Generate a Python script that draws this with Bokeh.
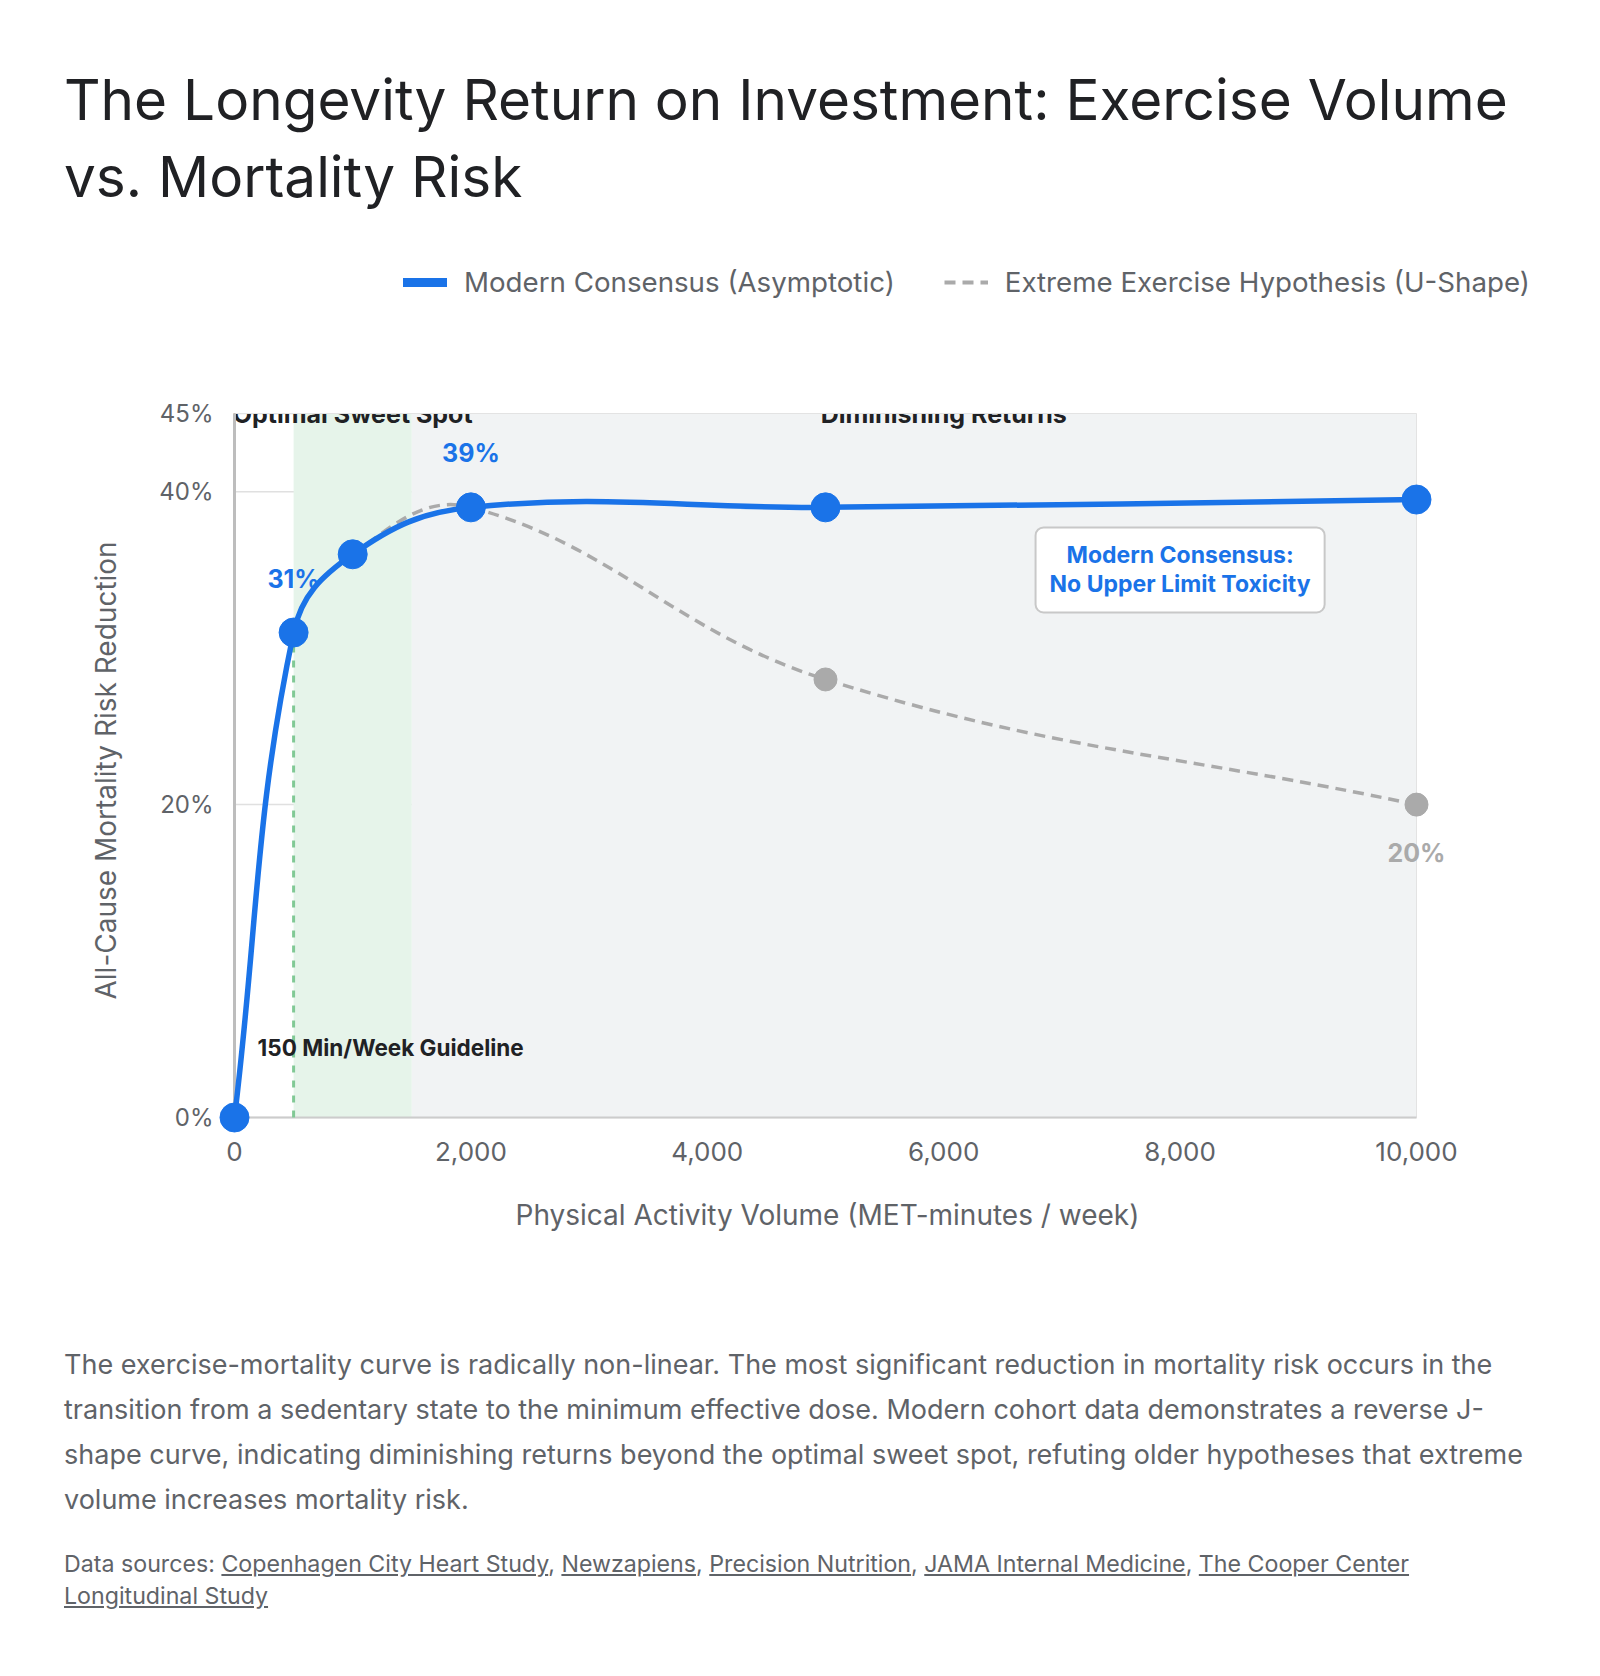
import math
from bokeh.plotting import figure
from bokeh.layouts import column
from bokeh.models import (Div, Legend, LegendItem, FixedTicker, NumeralTickFormatter,
                          Label, ColumnDataSource, Title)
from bokeh.core.properties import value
from bokeh.embed import file_html
from bokeh.resources import INLINE

# ---------------- data ----------------
volume = [0, 500, 1000, 2000, 5000, 10000]          # MET-minutes / week
consensus = [0, 31, 36, 39, 39, 39.5]               # % risk reduction (Modern Consensus)
u_shape = [0, 31, 36, 39, 28, 20]                   # % risk reduction (Extreme Exercise Hypothesis)
zone_start = [500, 1500]
zone_end = [1500, 10000]
zone_names = ["Optimal Sweet Spot", "Diminishing Returns"]
zone_label_x = [1000, 6000]
guideline_x = 500
x_ticks = [0, 2000, 4000, 6000, 8000, 10000]
y_ticks = [0, 20, 40, 45]
consensus_label_idx = [1, 3]
u_shape_label_idx = [5]
series_names = ["Modern Consensus (Asymptotic)", "Extreme Exercise Hypothesis (U-Shape)"]
x_title = "Physical Activity Volume (MET-minutes / week)"
y_title = "All-Cause Mortality Risk Reduction"

X_MAX, Y_MAX = 10000, 45
FRAME_W, FRAME_H = 1182, 704          # plot-area size in px
# extra frame room around the plot area (markers at the edges, legend on top)
PAD_L, PAD_R, PAD_T, PAD_B = 16, 154, 173, 16
FONT = "Inter"
BLUE = "#1a73e8"
GREY = "#aaaaaa"
TXT = "#5f6368"

UX = X_MAX / FRAME_W   # data units per px
UY = Y_MAX / FRAME_H


def spline_segments(xs, ys, tension=0.4):
    """Chart.js-style cardinal spline control points (computed in pixel space)."""
    px = [x / UX for x in xs]
    py = [y / UY for y in ys]
    n = len(px)
    prev_c, next_c = [], []
    for i in range(n):
        a, c = max(i - 1, 0), min(i + 1, n - 1)
        d01 = math.hypot(px[i] - px[a], py[i] - py[a])
        d12 = math.hypot(px[c] - px[i], py[c] - py[i])
        tot = d01 + d12
        s01 = d01 / tot if tot else 0
        s12 = d12 / tot if tot else 0
        fa, fb = tension * s01, tension * s12
        dx, dy = px[c] - px[a], py[c] - py[a]
        prev_c.append((px[i] - fa * dx, py[i] - fa * dy))
        next_c.append((px[i] + fb * dx, py[i] + fb * dy))

    def back(pt):
        return min(max(pt[0], 0), FRAME_W) * UX, min(max(pt[1], 0), FRAME_H) * UY

    seg = dict(x0=[], y0=[], x1=[], y1=[], cx0=[], cy0=[], cx1=[], cy1=[])
    for i in range(n - 1):
        c0 = back(next_c[i])
        c1 = back(prev_c[i + 1])
        seg["x0"].append(xs[i]); seg["y0"].append(ys[i])
        seg["x1"].append(xs[i + 1]); seg["y1"].append(ys[i + 1])
        seg["cx0"].append(c0[0]); seg["cy0"].append(c0[1])
        seg["cx1"].append(c1[0]); seg["cy1"].append(c1[1])
    return seg


# ---------------- title ----------------
title = Div(
    text=("<div style=\"font-family:'Inter';font-size:56.7px;line-height:77px;color:#202124;"
          "padding:61px 0 0 64px;white-space:nowrap\">"
          "The Longevity Return on Investment: Exercise Volume<br>vs. Mortality Risk</div>"),
    width=1600, height=230, margin=0)

# ---------------- main figure ----------------
x_range = (-PAD_L * UX, X_MAX + PAD_R * UX)
y_range = (-PAD_B * UY, Y_MAX + PAD_T * UY)
p = figure(width=1600, height=1043, x_range=x_range, y_range=y_range,
           output_backend="svg", toolbar_location=None,
           min_border_left=234 - PAD_L, min_border_right=1600 - 1416 - PAD_R,
           min_border_top=413 - 230 - PAD_T, min_border_bottom=140)
p.background_fill_color = "white"
p.border_fill_color = "white"
p.outline_line_color = None
p.grid.visible = False

# horizontal grid lines (plot area only)
p.segment(x0=[0] * len(y_ticks), y0=y_ticks, x1=[X_MAX] * len(y_ticks), y1=y_ticks,
          line_color="#e0e0e0", line_width=1.5)

# zones
p.quad(left=zone_start, right=zone_end, bottom=0, top=Y_MAX,
       fill_color=["#e6f4ea", "#f1f3f4"], line_color=None)

# zone labels (cut at top of plot area)
p.text(x=zone_label_x, y=[Y_MAX] * len(zone_label_x), text=zone_names,
       text_font=value(FONT), text_font_style="bold", text_font_size="25px",
       text_color="#202124", text_align="center", text_baseline="alphabetic", y_offset=0)
p.quad(left=[x_range[0]], right=[x_range[1]], bottom=[Y_MAX], top=[y_range[1]],
       fill_color="white", line_color=None)

# plot-area border (top / right) and axis lines
p.segment(x0=[0, X_MAX], y0=[Y_MAX, 0], x1=[X_MAX, X_MAX], y1=[Y_MAX, Y_MAX],
          line_color="#e3e3e3", line_width=1)
p.segment(x0=[0], y0=[0], x1=[X_MAX], y1=[0], line_color="#cccccc", line_width=2)
p.segment(x0=[0], y0=[0], x1=[0], y1=[Y_MAX], line_color="#bdbdbd", line_width=3)

# guideline
gi = volume.index(guideline_x)
p.segment(x0=[guideline_x], y0=[0], x1=[guideline_x], y1=[consensus[gi]],
          line_color="#81c995", line_width=3, line_dash="7 8")

# grey U-shape curve
gs = spline_segments(volume, u_shape)
p.bezier(source=ColumnDataSource(gs), x0="x0", y0="y0", x1="x1", y1="y1",
         cx0="cx0", cy0="cy0", cx1="cx1", cy1="cy1",
         line_color=GREY, line_width=3.5, line_dash="11 7")
p.scatter(volume, u_shape, size=23, color=GREY)

# blue consensus curve
bs = spline_segments(volume, consensus)
p.bezier(source=ColumnDataSource(bs), x0="x0", y0="y0", x1="x1", y1="y1",
         cx0="cx0", cy0="cy0", cx1="cx1", cy1="cy1",
         line_color=BLUE, line_width=5.5)
p.scatter(volume, consensus, size=29, color=BLUE)

# value labels
p.text(x=[volume[i] for i in consensus_label_idx], y=[consensus[i] for i in consensus_label_idx],
       text=[f"{consensus[i]:g}%" for i in consensus_label_idx],
       text_font=value(FONT), text_font_style="bold", text_font_size="25px",
       text_color=BLUE, text_align="center", text_baseline="middle", y_offset=-54)
p.text(x=[volume[i] for i in u_shape_label_idx], y=[u_shape[i] for i in u_shape_label_idx],
       text=[f"{u_shape[i]:g}%" for i in u_shape_label_idx],
       text_font=value(FONT), text_font_style="bold", text_font_size="25px",
       text_color=GREY, text_align="center", text_baseline="middle", y_offset=48)

# guideline label
p.add_layout(Label(x=guideline_x, y=4.5, text="150 Min/Week Guideline",
                   text_font=FONT, text_font_style="bold", text_font_size="22.5px",
                   text_color="#202124", text_align="left", text_baseline="middle",
                   x_offset=-36))

# callout box
p.add_layout(Label(x=8000, y=35, text="Modern Consensus:\nNo Upper Limit Toxicity",
                   text_font=FONT, text_font_style="bold", text_font_size="23px",
                   text_color=BLUE, text_align="center", text_baseline="middle",
                   text_line_height=1.04,
                   background_fill_color="white", border_line_color="#c8c8c8",
                   border_line_width=2, padding=14, border_radius=8))

# legend (proxy renderers carry the legend styling only)
nan = float("nan")
leg_blue = p.line([nan, nan], [nan, nan], line_color=BLUE, line_width=9, line_cap="round")
leg_grey = p.line([nan, nan], [nan, nan], line_color=GREY, line_width=4, line_dash="11 7")
legend = Legend(items=[LegendItem(label=series_names[0], renderers=[leg_blue]),
                       LegendItem(label=series_names[1], renderers=[leg_grey])],
                orientation="horizontal", location=(403 - (234 - PAD_L), (1117 + PAD_B) - 299),
                glyph_width=44, glyph_height=34, label_standoff=17, spacing=49,
                padding=0, margin=0, border_line_color=None, background_fill_alpha=0,
                label_text_font=FONT, label_text_font_size="27.7px", label_text_color=TXT)
p.add_layout(legend, "center")

# axes (tick labels from Bokeh axes)
p.xaxis.ticker = FixedTicker(ticks=x_ticks)
p.xaxis.formatter = NumeralTickFormatter(format="0,0")
p.yaxis.ticker = FixedTicker(ticks=y_ticks)
p.yaxis.major_label_overrides = {t: f"{t}%" for t in y_ticks}
for ax in (p.xaxis[0], p.yaxis[0]):
    ax.axis_line_color = None
    ax.major_tick_line_color = None
    ax.minor_tick_line_color = None
    ax.major_tick_out = 0
    ax.major_tick_in = 0
    ax.minor_tick_out = 0
    ax.minor_tick_in = 0
    ax.major_label_text_font = FONT
    ax.major_label_text_color = TXT
p.xaxis.major_label_text_font_size = "26px"
p.yaxis.major_label_text_font_size = "24px"
p.xaxis.major_label_standoff = 8
p.yaxis.major_label_standoff = 5

# axis titles as side titles, offset so they sit centred on the plot area
p.add_layout(Title(text=x_title, align="left", offset=297, standoff=64,
                   text_font=FONT, text_font_size="28px", text_font_style="normal",
                   text_color=TXT), "below")
p.add_layout(Title(text=y_title, align="left", offset=134, standoff=67,
                   text_font=FONT, text_font_size="28px", text_font_style="normal",
                   text_color=TXT), "left")

# ---------------- description ----------------
desc = Div(
    text=("<div style=\"font-family:'Inter';color:#5f6368;padding:69px 0 0 64px;white-space:nowrap\">"
          "<div style=\"font-size:27px;line-height:45px\">"
          "The exercise-mortality curve is radically non-linear. The most significant reduction in mortality risk occurs in the<br>"
          "transition from a sedentary state to the minimum effective dose. Modern cohort data demonstrates a reverse J-<br>"
          "shape curve, indicating diminishing returns beyond the optimal sweet spot, refuting older hypotheses that extreme<br>"
          "volume increases mortality risk.</div>"
          "<div style=\"font-size:23.2px;line-height:32px;margin-top:26px\">Data sources: "
          "<a style=\"color:#5f6368\" href=\"#\">Copenhagen City Heart Study</a>, "
          "<a style=\"color:#5f6368\" href=\"#\">Newzapiens</a>, "
          "<a style=\"color:#5f6368\" href=\"#\">Precision Nutrition</a>, "
          "<a style=\"color:#5f6368\" href=\"#\">JAMA Internal Medicine</a>, "
          "<a style=\"color:#5f6368\" href=\"#\">The Cooper Center</a><br>"
          "<a style=\"color:#5f6368\" href=\"#\">Longitudinal Study</a></div></div>"),
    width=1600, height=395, margin=0)

layout = column(title, p, desc, spacing=0)
open("out.html", "w").write(file_html(layout, INLINE))
